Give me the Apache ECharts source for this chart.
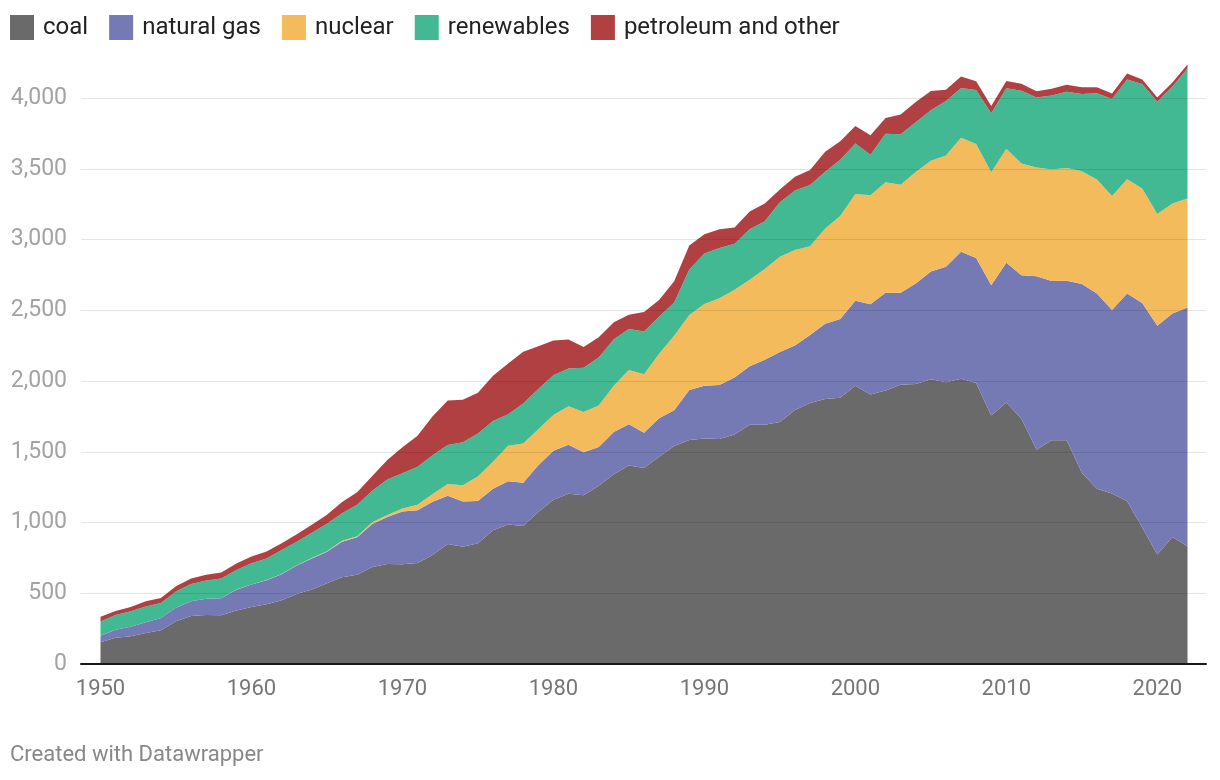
<!DOCTYPE html>
<html><head><meta charset="utf-8">
<script src="https://cdn.jsdelivr.net/npm/echarts@6/dist/echarts.min.js"></script>
<style>html,body{margin:0;padding:0;background:#fff}#c{width:1220px;height:780px}</style>
</head><body><div id="c"></div>
<script>
const years = [1950,1951,1952,1953,1954,1955,1956,1957,1958,1959,
1960,1961,1962,1963,1964,1965,1966,1967,1968,1969,
1970,1971,1972,1973,1974,1975,1976,1977,1978,1979,
1980,1981,1982,1983,1984,1985,1986,1987,1988,1989,
1990,1991,1992,1993,1994,1995,1996,1997,1998,1999,
2000,2001,2002,2003,2004,2005,2006,2007,2008,2009,
2010,2011,2012,2013,2014,2015,2016,2017,2018,2019,
2020,2021,2022];

const coal = [154.5,185.2,195.4,218.8,239.1,301.4,338.5,346.4,344.4,378.4,
403.1,421.9,450.2,493.9,526.2,570.9,613.5,630.5,684.9,706.0,
704.4,713.1,771.1,847.7,828.4,852.8,944.4,985.2,975.7,1075.0,
1161.6,1203.2,1192.0,1259.4,1341.7,1402.1,1385.8,1463.8,1540.7,1583.8,
1594.0,1590.6,1621.2,1690.0,1690.7,1709.4,1795.2,1845.0,1873.5,1881.1,
1966.3,1904.0,1933.1,1973.7,1978.3,2012.9,1990.5,2016.5,1985.8,1755.9,
1847.3,1733.4,1514.0,1581.1,1581.7,1352.4,1239.1,1205.8,1149.5,965.0,
773.4,897.9,831.5];

const naturalGas = [44.6,57.0,67.4,77.1,85.4,95.3,104.3,114.2,120.4,147.1,
158.0,169.3,184.3,201.6,220.0,222.0,251.2,264.8,304.4,333.3,
372.9,374.0,375.7,340.9,320.1,299.8,294.6,305.5,305.4,329.5,
346.2,345.8,305.3,274.1,297.4,291.9,248.5,272.6,252.8,352.6,
372.8,381.6,404.1,414.9,460.2,496.1,455.1,479.4,531.3,556.4,
601.0,639.1,691.0,649.9,710.1,761.0,816.4,896.6,883.0,921.0,
987.7,1013.7,1225.9,1124.8,1126.6,1333.5,1379.0,1296.4,1469.1,1585.8,
1617.5,1579.2,1687.1];

const nuclear = [0,0,0,0,0,0,0,0,0.2,0.2,
0.5,1.7,2.3,3.2,3.3,3.7,5.5,7.7,12.5,13.9,
21.8,38.1,54.1,83.5,114.0,172.5,191.1,250.9,276.4,255.2,
251.1,272.7,282.8,293.7,327.6,383.7,414.0,455.3,527.0,529.4,
576.9,612.6,618.8,610.3,640.4,673.4,674.7,628.6,673.7,728.3,
753.9,768.8,780.1,763.7,788.5,782.0,787.2,806.4,806.2,798.9,
807.0,790.2,769.3,789.0,797.2,797.2,805.7,805.0,807.1,809.4,
789.9,778.2,771.5];

const renewables = [101,104,110,110,107,116,122,130,140,138,
150,153,169,166,178,194,195,222,223,251,
249,268,275,275,304,303,287,224,284,283,
281,266,314,338,329,290,302,262,235,322,
357,356,326,357,337,384,422,433,400,397,
357,287,344,356,351,358,385,352,381,417,
427,514,494,522,539,545,610,685,705,738,
792,826,918];

const petroleumOther = [33.7,29.0,30.4,37.1,34.5,37.1,38.7,40.6,41.6,47.0,
48.0,48.5,48.4,52.0,57.0,64.8,79.0,89.3,104.3,138.3,
184.2,220.2,274.3,314.3,300.9,289.1,320.0,358.2,365.1,303.5,
246.0,206.4,146.8,144.5,119.8,100.2,136.6,118.5,148.9,170,
137,132,114,125,126,90,97,106,141,132,
124,138,110,140,143,135,80,80,63,50,
52,49,45,49,50,48,43,40,42,32,
30,28,28];

const xTickLabels = [1950,1960,1970,1980,1990,2000,2010,2020];
const seriesNames = ['coal','natural gas','nuclear','renewables','petroleum and other'];
const seriesColors = ['#6a6a6a','#7579b4','#f4bb5c','#42b993','#b14042'];
const seriesValues = [coal, naturalGas, nuclear, renewables, petroleumOther];

const FONT = 'Roboto, "Noto Sans", sans-serif';
const chart = echarts.init(document.getElementById('c'), null, {renderer:'canvas'});

const series = seriesNames.map((name, k) => ({
  name: name,
  type: 'line',
  stack: 'total',
  xAxisIndex: 0, yAxisIndex: 0,
  data: seriesValues[k],
  symbol: 'none',
  showSymbol: false,
  clip: false,
  lineStyle: {width: 0},
  itemStyle: {color: seriesColors[k]},
  areaStyle: {color: seriesColors[k], opacity: 1},
  emphasis: {disabled: true},
  z: 2
}));

chart.setOption({
  animation: false,
  backgroundColor: '#ffffff',
  legend: {
    left: 10, top: 15, padding: 0,
    icon: 'rect',
    itemWidth: 24, itemHeight: 25,
    itemGap: 21,
    selectedMode: false,
    textStyle: {color: '#222', fontSize: 24, fontFamily: FONT, padding: [0,0,0,4]},
    data: seriesNames
  },
  grid: [
    {left: 100.5, right: 32.5, top: 98, bottom: 116, containLabel: false},
    {left: 81, right: 14, top: 98, bottom: 116, containLabel: false}
  ],
  xAxis: [{
    type: 'category', gridIndex: 0,
    data: years,
    boundaryGap: false,
    axisLine: {show: false},
    axisTick: {show: false},
    splitLine: {show: false},
    axisLabel: {color: '#777', fontSize: 22, fontFamily: FONT, margin: 14,
      interval: (i, v) => xTickLabels.indexOf(Number(v)) >= 0}
  }, {
    type: 'value', gridIndex: 1, min: 0, max: 1,
    z: 5,
    axisLine: {show: true, onZero: false, lineStyle: {color: '#1a1a1a', width: 2}},
    axisTick: {show: false},
    splitLine: {show: false},
    axisLabel: {show: false}
  }],
  yAxis: [{
    type: 'value', gridIndex: 0,
    min: 0, max: 4000, interval: 500,
    show: false,
    splitLine: {show: false}
  }, {
    type: 'value', gridIndex: 1,
    min: 0, max: 4000, interval: 500,
    z: 4,
    axisLine: {show: false},
    axisTick: {show: false},
    splitLine: {lineStyle: {color: 'rgba(0,0,0,0.1)', width: 1}},
    axisLabel: {color: '#a3a3a3', fontSize: 23, fontFamily: FONT, margin: 14,
      formatter: v => v.toLocaleString('en-US')}
  }],
  graphic: [{
    type: 'text', left: 10, top: 744,
    style: {text: 'Created with Datawrapper', fill: '#888', fontSize: 22, fontFamily: FONT}
  }],
  series: series
});
</script>
</body></html>
